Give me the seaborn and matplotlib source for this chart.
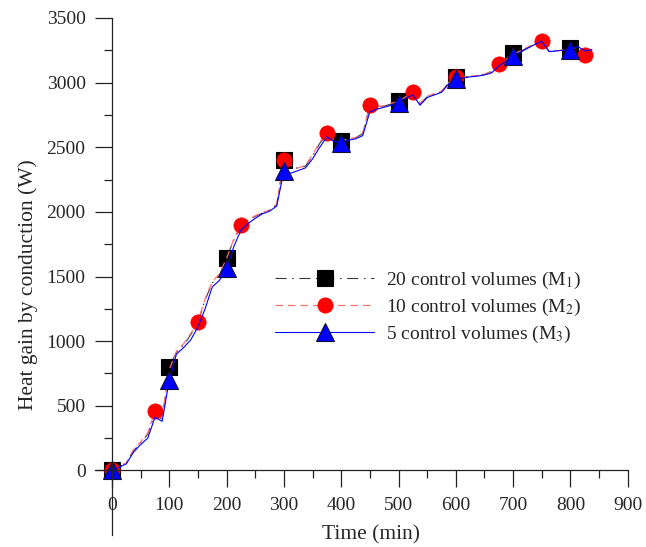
import numpy as np
import pandas as pd
import matplotlib
matplotlib.use("Agg")
import matplotlib.pyplot as plt
import seaborn as sns
from matplotlib.ticker import FixedLocator

# ---- data ----
time = np.arange(0, 850, 12.5)

m1 = [0, 28, 55, 150, 215, 280, 440, 395, 800, 915, 970, 1050, 1140, 1320, 1450, 1510,
      1645, 1780, 1890, 1935, 1965, 1990, 2012, 2055, 2405, 2350, 2335, 2355, 2430, 2530,
      2600, 2555, 2545, 2560, 2572, 2605, 2815, 2810, 2818, 2835, 2855, 2885, 2920, 2835,
      2890, 2912, 2932, 2998, 3040, 3042, 3048, 3052, 3062, 3085, 3138, 3175, 3228, 3240,
      3270, 3298, 3322, 3242, 3246, 3252, 3265, 3275, 3230, 3252]

m2 = [0, 30, 60, 160, 220, 290, 457, 400, 780, 920, 980, 1060, 1149, 1330, 1460, 1520,
      1640, 1790, 1900, 1940, 1970, 1995, 2015, 2060, 2400, 2360, 2340, 2360, 2440, 2540,
      2608, 2560, 2550, 2565, 2575, 2610, 2825, 2815, 2820, 2840, 2855, 2890, 2930, 2840,
      2895, 2915, 2935, 3000, 3040, 3045, 3050, 3055, 3065, 3090, 3142, 3180, 3220, 3245,
      3275, 3300, 3325, 3245, 3245, 3255, 3265, 3270, 3214, 3250]

m3 = [0, 25, 50, 140, 200, 250, 410, 380, 697, 900, 950, 1010, 1110, 1250, 1420, 1470,
      1562, 1730, 1860, 1910, 1950, 1985, 2005, 2045, 2318, 2300, 2320, 2340, 2410, 2500,
      2580, 2545, 2535, 2555, 2565, 2590, 2775, 2795, 2810, 2825, 2845, 2880, 2905, 2825,
      2885, 2905, 2925, 2990, 3025, 3035, 3045, 3050, 3060, 3075, 3130, 3165, 3207, 3235,
      3265, 3295, 3320, 3240, 3245, 3250, 3255, 3280, 3245, 3255]

labels = ["20 control volumes (M$_1$)",
          "10 control volumes (M$_2$)",
          "5 control volumes (M$_3$)"]

x_ticks = [0, 100, 200, 300, 400, 500, 600, 700, 800, 900]
y_ticks = [0, 500, 1000, 1500, 2000, 2500, 3000, 3500]

# ---- style ----
sns.set_style("ticks")
plt.rcParams["font.family"] = ["Liberation Serif", "DejaVu Serif"]
plt.rcParams["mathtext.fontset"] = "stix"

fig = plt.figure(figsize=(6.46, 5.47), dpi=100)
ax = fig.add_axes([0.1467, 0.0219, 0.8251, 0.9452])

df = pd.DataFrame({"t": time, "m1": m1, "m2": m2, "m3": m3})

sns.lineplot(data=df, x="t", y="m1", ax=ax, color="#3a3a3a", lw=0.8,
             linestyle=(0, (10, 5, 1.5, 5)), marker="s", markevery=8, markersize=11,
             markerfacecolor="black", markeredgecolor="black", markeredgewidth=0.8,
             label=labels[0])
sns.lineplot(data=df, x="t", y="m2", ax=ax, color="#ff7070", lw=0.9,
             linestyle=(0, (6, 4)), marker="o", markevery=6, markersize=11,
             markerfacecolor="#ff0000", markeredgecolor="#ff0000", markeredgewidth=0.5,
             label=labels[1])
sns.lineplot(data=df, x="t", y="m3", ax=ax, color="#0000ff", lw=0.8,
             linestyle="-", marker="^", markevery=8, markersize=12.5,
             markerfacecolor="#0000ff", markeredgecolor="#111133", markeredgewidth=0.8,
             label=labels[2])

# ---- axes ----
ax.set_xlim(-30, 900)
ax.set_ylim(-500, 3500)
ax.spines["left"].set_position(("data", 0))
ax.spines["bottom"].set_position(("data", 0))
ax.spines["top"].set_visible(False)
ax.spines["right"].set_visible(False)
for s in ("left", "bottom"):
    ax.spines[s].set_linewidth(0.9)
    ax.spines[s].set_color("#222222")

ax.xaxis.set_major_locator(FixedLocator(x_ticks))
ax.xaxis.set_minor_locator(FixedLocator([v + 50 for v in x_ticks[:-1]]))
ax.yaxis.set_major_locator(FixedLocator(y_ticks))
ax.yaxis.set_minor_locator(FixedLocator([v + 250 for v in y_ticks[:-1]]))
ax.set_xticklabels([str(v) for v in x_ticks])
ax.set_yticklabels([str(v) for v in y_ticks])
ax.tick_params(axis="both", which="major", direction="out", length=12, width=0.9,
               color="#222222", labelsize=14, pad=7)
ax.tick_params(axis="both", which="minor", direction="out", length=6, width=0.9,
               color="#222222")

ax.set_xlabel("Time (min)", fontsize=15.5)
ax.set_ylabel("Heat gain by conduction (W)", fontsize=15.5)
ax.xaxis.set_label_coords(0.518, 0.018)
ax.yaxis.set_label_coords(-0.107, 0.485)

leg = ax.legend(loc="upper left", bbox_to_anchor=(275 / 646, 1 - 270 / 547),
                bbox_transform=fig.transFigure, frameon=False, fontsize=14,
                handlelength=5.1, handletextpad=0.6, labelspacing=0.3,
                borderpad=0, borderaxespad=0, numpoints=1)

fig.savefig("out.png", dpi=100)
